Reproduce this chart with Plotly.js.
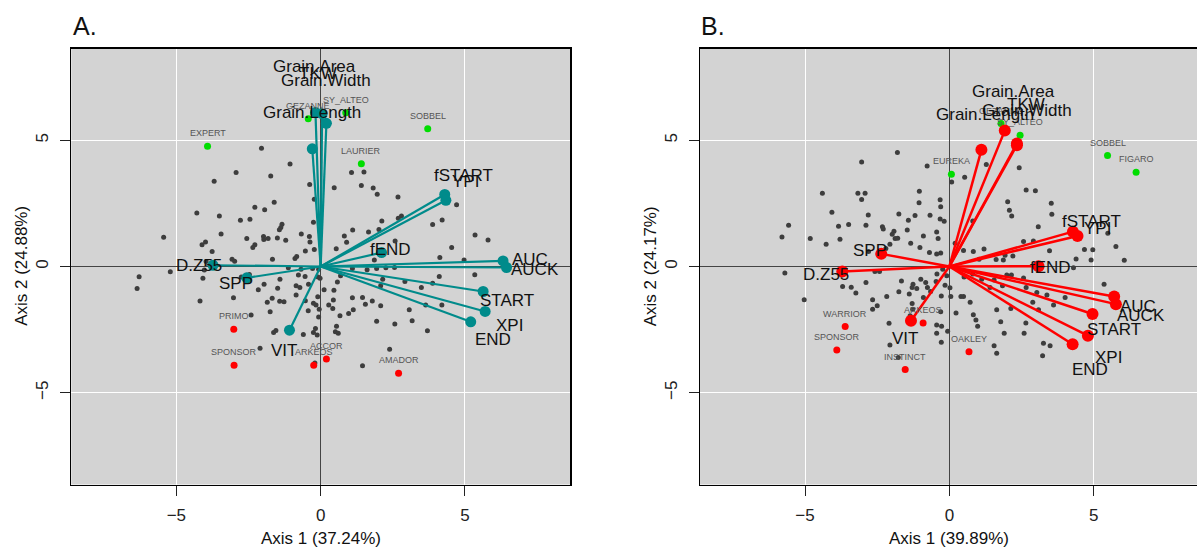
<!DOCTYPE html>
<html>
<head>
<meta charset="utf-8">
<script src="https://cdn.plot.ly/plotly-3.0.1.min.js"></script>
<style>html,body{margin:0;padding:0;background:#fff;overflow:hidden}#chart{width:1197px;height:552px}</style>
</head>
<body>
<div id="chart"></div>
<script>
// ---------- DATA ----------
const varNames = ["Grain.Area","TKW","Grain.Width","Grain.Length","fSTART","YPI","fEND","AUC","AUCK","START","XPI","END","VIT","SPP","D.Z55"];

// Panel A (PCA 1)
const aTitle = "A.";
const aXTitle = "Axis 1 (37.24%)";
const aYTitle = "Axis 2 (24.88%)";
const aGrayX = [-2.05,-1.06,-2.93,-1.73,-3.69,-0.38,1.07,1.50,0.47,1.41,1.82,1.96,2.68,4.71,-1.61,-2.28,-1.94,-4.29,-3.51,-2.78,-2.45,-0.22,4.21,3.88,2.69,2.80,2.12,-0.25,-1.34,-1.38,-1.43,1.11,1.66,2.02,-3.45,0.82,-5.44,-2.56,-1.98,-1.97,-1.82,-1.50,-1.21,-0.67,-0.39,-0.37,0.90,2.58,5.35,5.80,-3.99,-4.11,-2.28,-2.35,4.54,0.54,-3.76,-0.22,-0.53,-0.83,-0.89,-1.67,1.86,4.13,4.97,-3.07,-2.98,-3.97,-4.03,-5.21,-6.29,-6.36,-1.12,-0.68,-0.28,-0.07,1.10,1.61,1.94,2.26,2.56,5.34,4.11,-2.47,-2.75,-4.08,-1.41,-0.77,-0.54,-0.09,-0.02,0.69,0.58,2.15,2.08,2.92,3.49,3.88,-0.85,-0.72,-0.42,-1.96,-1.49,-2.16,-3.02,-4.18,-1.68,-1.85,-1.42,-1.27,-0.85,-0.53,-0.25,-0.10,0.12,0.46,0.44,-0.16,0.28,1.10,1.45,1.79,1.55,2.08,3.07,3.64,4.20,-1.75,-0.43,-0.05,0.42,1.13,0.97,0.67,-2.41,1.94,2.57,3.17,-0.07,0.55,0.51,0.61,-0.18,-0.25,-0.12,-0.60,-1.55,-1.63,3.70,-2.10,2.39,1.45,-0.20];
const aGrayY = [4.68,4.06,3.72,3.58,3.37,3.25,3.72,3.74,3.12,3.21,3.11,2.86,2.75,2.44,2.54,2.35,2.25,2.12,2.00,1.83,1.87,2.66,1.84,1.66,1.91,2.00,1.80,1.75,1.67,1.54,1.45,1.44,1.37,1.46,1.29,1.21,1.16,1.11,1.19,1.07,1.11,1.13,1.04,1.29,1.19,0.97,0.96,1.01,1.25,1.05,0.97,0.86,0.86,0.75,0.75,0.70,0.59,0.67,0.61,0.40,0.32,0.29,0.26,0.36,0.26,0.29,0.21,0.20,-0.14,-0.21,-0.41,-0.87,-0.05,-0.11,-0.08,-0.11,-0.08,-0.13,-0.08,-0.05,-0.04,-0.33,-0.40,-0.32,-0.42,-0.47,-0.50,-0.34,-0.40,-0.42,-0.47,-0.37,-0.61,-0.50,-0.76,-0.59,-0.83,-0.66,-0.76,-0.83,-0.70,-0.70,-0.86,-0.92,-1.24,-1.37,-1.26,-1.42,-1.38,-1.40,-1.13,-1.36,-1.45,-1.20,-0.92,-0.94,-1.33,-1.52,-1.52,-1.24,-1.23,-1.37,-1.49,-1.55,-1.71,-1.52,-1.52,-1.79,-1.75,-1.69,-1.66,-1.71,-1.86,-1.95,-1.92,-2.17,-2.28,-2.15,-2.00,-2.37,-2.58,-2.64,-2.45,-2.61,-2.71,-2.69,-2.53,-2.61,-2.54,-3.24,-3.28,-3.93,-3.82];
const aHighNames = ["EXPERT","GEZANNE","SY_ALTEO","SOBBEL","LAURIER"];
const aHighX = [-3.92,-0.43,0.87,3.71,1.41];
const aHighY = [4.76,5.85,6.09,5.45,4.07];
const aLowNames = ["PRIMO","SPONSOR","ARKEOS","ACCOR","AMADOR"];
const aLowX = [-3.01,-3.00,-0.24,0.20,2.70];
const aLowY = [-2.48,-3.91,-3.91,-3.66,-4.23];
const aTipX = [-0.18,0.05,0.20,-0.29,4.30,4.34,2.11,6.32,6.44,5.63,5.70,5.20,-1.08,-2.56,-3.73];
const aTipY = [6.10,6.05,5.67,4.66,2.85,2.62,0.55,0.22,-0.04,-0.99,-1.78,-2.19,-2.52,-0.45,0.05];
const aLabX = [-0.23,-0.10,0.18,-0.31,4.94,5.03,2.42,7.27,7.42,6.46,6.53,5.97,-1.27,-2.93,-4.20];
const aLabY = [7.90,7.64,7.35,6.08,3.62,3.36,0.69,0.26,-0.11,-1.35,-2.34,-2.90,-3.32,-0.66,0.05];

// Panel B (PCA 2)
const bTitle = "B.";
const bXTitle = "Axis 1 (39.89%)";
const bYTitle = "Axis 2 (24.17%)";
const bGrayX = [-1.80,-3.04,-0.77,1.28,0.53,0.08,-4.40,-3.17,-2.92,-3.04,-1.04,-1.05,-0.32,-0.30,2.02,2.08,2.16,2.42,2.66,2.98,3.53,3.55,-4.07,-2.81,-1.75,-1.19,-0.67,-0.32,-0.18,0.81,-1.42,-5.57,-3.84,-3.49,-2.89,-2.32,-2.29,-1.92,-1.98,-1.46,-0.44,3.08,-5.80,-4.82,-4.27,-3.79,-1.88,-1.79,-1.34,-0.90,-0.39,-1.02,-0.30,-0.44,-0.69,-2.06,-2.20,-2.80,0.20,0.49,0.83,1.20,1.93,2.20,2.57,2.91,3.47,4.68,4.97,4.39,4.91,5.77,6.06,5.49,1.03,1.62,1.87,4.30,-5.70,-5.03,-3.70,-3.40,-3.24,-2.89,-2.42,-2.58,-1.66,-1.26,-1.29,-1.13,-0.99,-0.82,-0.76,-0.46,-0.43,-0.23,-0.09,-2.66,-2.17,-1.75,-1.39,-0.90,-0.65,-0.28,-0.15,0.02,0.40,0.49,0.05,0.51,0.81,1.12,1.41,1.55,1.84,1.99,2.15,2.57,2.66,3.03,3.38,3.61,5.36,-2.66,-2.50,-1.29,-1.27,-1.36,-0.30,0.23,0.72,0.83,0.92,0.98,1.64,1.78,2.13,2.65,2.89,3.09,4.01,-2.09,-0.44,-0.27,-0.44,-0.28,-0.06,-2.06,-1.77,1.55,1.64,1.90,2.59,3.26,3.49,3.23];
const bGrayY = [4.51,4.14,3.98,4.04,3.53,3.35,2.90,2.90,2.90,2.65,2.98,2.52,2.64,2.37,2.56,2.23,2.00,3.91,3.03,3.00,2.50,2.07,2.15,2.04,2.08,2.02,2.03,1.88,1.79,1.80,1.83,1.63,1.59,1.66,1.63,1.57,1.48,1.40,1.28,1.44,1.37,1.57,1.17,1.11,0.88,1.08,1.11,1.12,0.92,1.21,1.11,0.75,0.53,0.49,0.55,0.88,0.71,0.59,0.92,0.63,0.59,0.69,0.45,0.42,0.99,1.01,0.62,0.67,0.66,0.30,0.26,0.79,0.25,1.32,0.29,0.28,0.26,-0.05,-0.26,-1.32,-0.79,-0.82,-1.05,-0.63,-0.20,-0.20,-0.57,-0.70,-0.83,-0.87,-0.50,-0.63,-0.83,-0.59,-0.30,-0.11,-0.37,-1.32,-1.19,-1.00,-1.09,-1.23,-0.99,-1.17,-0.74,-0.84,-1.19,-1.19,-1.19,-0.42,-0.30,-0.50,-0.83,-0.53,-0.76,-0.34,-0.34,-0.46,-0.83,-1.03,-1.13,-1.52,-0.70,-1.69,-1.55,-1.46,-1.69,-1.95,-1.79,-1.84,-1.42,-1.91,-2.12,-2.37,-1.71,-2.19,-1.66,-2.24,-1.42,-1.71,-1.23,-2.25,-2.32,-2.37,-2.64,-3.00,-2.56,-3.11,-3.60,-3.14,-3.43,-2.64,-2.64,-3.04,-3.14,-3.53];
const bHighNames = ["GEZANNE","SY_ALTEO","EUREKA","SOBBEL","FIGARO"];
const bHighX = [1.79,2.45,0.07,5.48,6.47];
const bHighY = [5.66,5.20,3.65,4.39,3.73];
const bLowNames = ["WARRIOR","SPONSOR","ARKEOS","INSTINCT","OAKLEY"];
const bLowX = [-3.61,-3.90,-0.91,-1.53,0.68];
const bLowY = [-2.38,-3.31,-2.24,-4.08,-3.37];
const bTipX = [1.92,2.34,2.34,1.11,4.28,4.44,3.09,5.71,5.77,4.96,4.80,4.27,-1.33,-2.36,-3.71];
const bTipY = [5.38,4.87,4.80,4.62,1.38,1.21,0.01,-1.19,-1.49,-1.88,-2.74,-3.08,-2.15,0.50,-0.20];
const bLabX = [2.22,2.66,2.70,1.24,4.94,5.13,3.49,6.55,6.64,5.69,5.53,4.88,-1.53,-2.75,-4.29];
const bLabY = [6.93,6.42,6.16,6.01,1.77,1.51,-0.04,-1.58,-1.95,-2.48,-3.59,-4.09,-2.84,0.62,-0.31];

// ---------- STYLE ----------
const FONT = "Liberation Sans, Arial, Helvetica, sans-serif";
const W = 1197, H = 552;
const GRAY = "#3d3d3d", GREEN = "#00dd00", RED = "#ff0000", TEAL = "#008b8b";

function arrowPath(tx, ty) {
  const xs = [], ys = [];
  for (let i = 0; i < tx.length; i++) { xs.push(0, tx[i], null); ys.push(0, ty[i], null); }
  return {xs, ys};
}

function panelTraces(ax, gx, gy, hx, hy, lx, ly, tx, ty, col, lw, tipSize) {
  const xa = ax === 1 ? "x" : "x2", ya = ax === 1 ? "y" : "y2";
  const p = arrowPath(tx, ty);
  return [
    {type: "scatter", mode: "markers", x: gx, y: gy, xaxis: xa, yaxis: ya,
     marker: {color: GRAY, size: 5}, hoverinfo: "skip"},
    {type: "scatter", mode: "markers", x: hx, y: hy, xaxis: xa, yaxis: ya,
     marker: {color: GREEN, size: 7}, hoverinfo: "skip"},
    {type: "scatter", mode: "markers", x: lx, y: ly, xaxis: xa, yaxis: ya,
     marker: {color: RED, size: 7}, hoverinfo: "skip"},
    {type: "scatter", mode: "lines", x: p.xs, y: p.ys, xaxis: xa, yaxis: ya,
     line: {color: col, width: lw}, hoverinfo: "skip"},
    {type: "scatter", mode: "markers", x: tx, y: ty, xaxis: xa, yaxis: ya,
     marker: {color: col, size: tipSize}, hoverinfo: "skip"}
  ];
}

const data = [].concat(
  panelTraces(1, aGrayX, aGrayY, aHighX, aHighY, aLowX, aLowY, aTipX, aTipY, TEAL, 2.2, 11),
  panelTraces(2, bGrayX, bGrayY, bHighX, bHighY, bLowX, bLowY, bTipX, bTipY, RED, 2.5, 12)
);

function axisBase(range, domain) {
  return {
    range: range, domain: domain, dtick: 5, tick0: 0,
    showgrid: true, gridcolor: "#ffffff", gridwidth: 1,
    zeroline: true, zerolinecolor: "#444444", zerolinewidth: 1,
    showline: true, linecolor: "#000000", linewidth: 1.5, mirror: true,
    ticks: "outside", ticklen: 10, tickwidth: 1, tickcolor: "#222",
    tickfont: {family: FONT, size: 17, color: "#222"},
    ticklabelstandoff: 5, fixedrange: true, showspikes: false
  };
}

const yDom = [1 - 484.5 / H, 1 - 48.5 / H];
const xaxA = Object.assign(axisBase([-8.64, 8.64], [71.3 / W, 570 / W]), {anchor: "y"});
const yaxA = Object.assign(axisBase([-8.63, 8.63], yDom), {tickangle: -90, anchor: "x"});
const xaxB = Object.assign(axisBase([-8.64, (W - 949.3) / 28.87], [700 / W, 1]), {anchor: "y2"});
const yaxB = Object.assign(axisBase([-8.63, 8.63], yDom), {tickangle: -90, anchor: "x2", mirror: false});

function ann(text, xpx, ypx, size, angle, xanchor) {
  return {text: text, xref: "paper", yref: "paper", x: xpx / W, y: 1 - ypx / H,
          xanchor: xanchor || "center", yanchor: "middle", showarrow: false, textangle: angle || 0,
          font: {family: FONT, size: size, color: "#111"}};
}

// Variety labels: placed just above their points
function varietyAnns(names, xs, ys, xref, yref) {
  return names.map((n, i) => ({
    text: n, x: xs[i], y: ys[i], xref: xref, yref: yref, showarrow: false,
    xanchor: "center", yanchor: "middle", yshift: 13,
    font: {family: FONT, size: 9, color: "#555"}
  }));
}

// Variable (arrow) labels, drawn on top of variety labels
function varAnns(xs, ys, xref, yref) {
  return varNames.map((n, i) => ({
    text: n, x: xs[i], y: ys[i], xref: xref, yref: yref, showarrow: false,
    xanchor: "center", yanchor: "middle",
    font: {family: FONT, size: 17, color: "#111"}
  }));
}

const layout = {
  width: W, height: H, margin: {l: 0, r: 0, t: 0, b: 0},
  paper_bgcolor: "#ffffff", plot_bgcolor: "#d3d3d3",
  showlegend: false, hovermode: false,
  xaxis: xaxA, yaxis: yaxA, xaxis2: xaxB, yaxis2: yaxB,
  annotations: [].concat(
    varietyAnns(aHighNames, aHighX, aHighY, "x", "y"),
    varietyAnns(aLowNames, aLowX, aLowY, "x", "y"),
    varietyAnns(bHighNames, bHighX, bHighY, "x2", "y2"),
    varietyAnns(bLowNames, bLowX, bLowY, "x2", "y2"),
    varAnns(aLabX, aLabY, "x", "y"),
    varAnns(bLabX, bLabY, "x2", "y2"),
    [
      ann(aTitle, 71, 26, 25, 0, "left"),
      ann(bTitle, 699, 26, 25, 0, "left"),
      ann(aXTitle, 320.65, 538, 17),
      ann(bXTitle, 949.3, 538, 17),
      ann(aYTitle, 21.5, 266.35, 17, -90),
      ann(bYTitle, 650, 266.35, 17, -90)
    ]
  )
};

Plotly.newPlot("chart", data, layout, {displayModeBar: false, staticPlot: true});
</script>
</body>
</html>
